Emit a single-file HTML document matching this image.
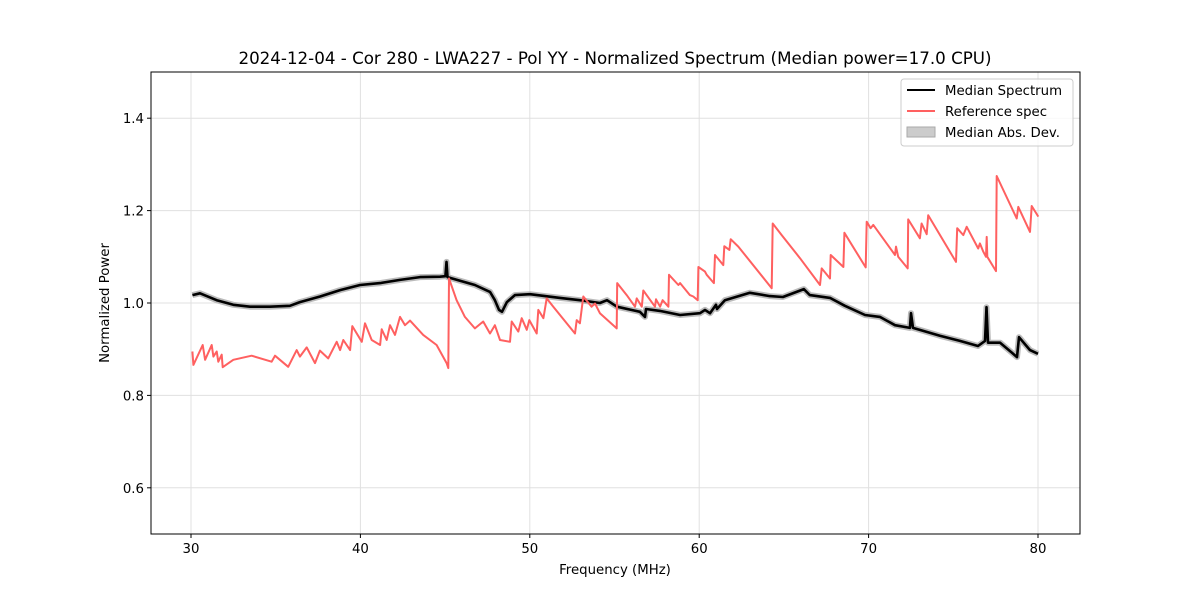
<!DOCTYPE html>
<html><head><meta charset="utf-8"><style>
body{margin:0;background:#fff;}
svg{display:block;font-family:"DejaVu Sans","Liberation Sans",sans-serif;}
</style></head><body>
<svg id="chart" width="1200" height="600">
<rect width="1200" height="600" fill="#fff"/>
<text x="615" y="64" font-size="16.7" text-anchor="middle">2024-12-04 - Cor 280 - LWA227 - Pol YY - Normalized Spectrum (Median power=17.0 CPU)</text>
<g id="grid"></g>
<g id="series"></g>
<rect x="151" y="72" width="929" height="462" fill="none" stroke="#000" stroke-width="1"/>
<g id="ticks"></g>
<text x="615" y="574" font-size="13.3" text-anchor="middle">Frequency (MHz)</text>
<text x="109" y="303" font-size="13.3" text-anchor="middle" transform="rotate(-90 109 303)">Normalized Power</text>
<g>
<rect x="901" y="79" width="172" height="67" rx="3" fill="#fff" fill-opacity="0.8" stroke="#ccc"/>
<line x1="907" y1="90" x2="935" y2="90" stroke="#000" stroke-width="2"/>
<text x="945" y="95" font-size="13.3">Median Spectrum</text>
<line x1="907" y1="111" x2="935" y2="111" stroke="#ff6060" stroke-width="2"/>
<text x="945" y="116" font-size="13.3">Reference spec</text>
<rect x="907" y="127" width="28" height="10" fill="#ccc" stroke="#aaa"/>
<text x="945" y="137" font-size="13.3">Median Abs. Dev.</text>
</g>
</svg>
<script>
const xTicks=[30,40,50,60,70,80];
const yTicks=[0.6,0.8,1.0,1.2,1.4];
const yTickLabels=["0.6","0.8","1.0","1.2","1.4"];
const refFreq=[30.08,30.14,30.69,30.83,31.22,31.32,31.52,31.61,31.81,31.87,32.50,33.58,34.76,34.96,35.74,36.24,36.43,36.83,37.32,37.61,38.10,38.60,38.80,38.99,39.39,39.52,40.08,40.27,40.67,41.16,41.26,41.55,41.75,42.04,42.34,42.63,42.93,43.71,44.50,45.09,45.19,45.23,45.68,46.17,46.76,47.25,47.65,47.94,48.24,48.83,48.93,49.32,49.52,49.82,49.97,50.41,50.50,50.80,51.00,51.39,52.67,52.77,52.96,53.16,53.65,53.85,54.14,55.13,55.16,55.72,56.21,56.31,56.61,56.70,57.39,57.45,57.69,57.84,58.18,58.22,58.77,58.87,59.45,59.65,59.91,59.95,60.34,60.44,60.87,60.93,61.42,61.48,61.78,61.86,62.31,64.28,64.34,64.87,65.95,67.13,67.23,67.72,67.76,68.51,68.57,69.83,69.89,70.12,70.28,71.56,71.62,71.75,72.31,72.34,73.03,73.13,73.43,73.52,75.16,75.23,75.59,75.79,76.47,76.57,76.77,76.93,76.97,77.01,77.52,77.56,78.74,78.84,79.53,79.63,80.02];
const refPower=[0.895,0.866,0.909,0.877,0.909,0.884,0.895,0.873,0.888,0.861,0.877,0.886,0.873,0.886,0.862,0.898,0.884,0.904,0.870,0.897,0.880,0.916,0.898,0.920,0.898,0.950,0.916,0.956,0.920,0.909,0.943,0.920,0.952,0.931,0.970,0.952,0.962,0.931,0.909,0.870,0.859,1.053,1.006,0.970,0.945,0.960,0.934,0.952,0.920,0.916,0.960,0.938,0.967,0.942,0.963,0.934,0.985,0.967,1.010,0.992,0.934,0.963,0.956,1.014,0.992,0.999,0.978,0.945,1.043,1.017,0.992,1.010,0.992,1.027,0.992,1.008,0.992,1.006,0.992,1.061,1.039,1.043,1.017,1.014,1.006,1.078,1.068,1.061,1.043,1.104,1.082,1.123,1.115,1.138,1.122,1.032,1.172,1.147,1.097,1.039,1.075,1.053,1.104,1.078,1.152,1.077,1.176,1.162,1.169,1.104,1.122,1.100,1.075,1.181,1.140,1.172,1.149,1.190,1.089,1.162,1.147,1.165,1.118,1.129,1.111,1.100,1.143,1.100,1.069,1.275,1.183,1.208,1.154,1.210,1.187];
const medFreq=[30.08,30.53,31.52,32.50,33.48,34.66,35.84,36.43,37.62,38.80,39.98,41.16,42.34,43.52,44.70,45.02,45.08,45.14,45.88,46.76,47.65,47.94,48.18,48.36,48.65,49.12,50.01,50.90,51.78,52.96,54.14,54.56,55.14,56.50,56.80,56.86,57.68,58.87,60.05,60.34,60.64,60.99,61.05,61.52,61.81,62.99,64.17,64.94,66.18,66.53,67.72,68.60,69.79,70.67,71.56,72.44,72.50,72.62,74.21,75.39,76.46,76.87,76.96,77.05,77.76,78.47,78.76,78.88,79.53,80.00];
const medPower=[1.017,1.021,1.006,0.996,0.992,0.992,0.994,1.002,1.014,1.028,1.039,1.043,1.050,1.056,1.057,1.058,1.089,1.056,1.048,1.039,1.024,1.006,0.985,0.981,1.002,1.017,1.019,1.015,1.011,1.006,1.000,1.006,0.992,0.981,0.970,0.987,0.983,0.974,0.978,0.985,0.978,0.996,0.987,1.006,1.009,1.022,1.015,1.013,1.030,1.017,1.011,0.994,0.974,0.970,0.952,0.946,0.978,0.946,0.929,0.918,0.907,0.918,0.991,0.914,0.914,0.892,0.883,0.926,0.898,0.890];

const NS="http://www.w3.org/2000/svg";
const X0=151,X1=1080,Y0=72,Y1=534;
function xs(f){return 191+(f-30)*(1038-191)/50;}
function ys(v){return 534-(v-0.5)*(534-72)/1.0;}
const grid=document.getElementById('grid'),ticks=document.getElementById('ticks'),series=document.getElementById('series');
function mk(tag,attrs,parent){const e=document.createElementNS(NS,tag);for(const k in attrs)e.setAttribute(k,attrs[k]);parent.appendChild(e);return e;}
xTicks.forEach(t=>{
  const x=xs(t);
  const g=mk('line',{x1:x,x2:x,y1:Y0,y2:Y1,stroke:'#e0e0e0','stroke-width':1},grid);
  
  
  const tk=mk('line',{x1:x,x2:x,y1:Y1,y2:Y1+4,stroke:'#000'},ticks);
  
  
  const tx=mk('text',{x:x,y:Y1+19,'font-size':13.3,'text-anchor':'middle'},ticks);
  tx.textContent=String(t);
  
  
});
yTicks.forEach((t,i)=>{
  const y=ys(t);
  const g=mk('line',{x1:X0,x2:X1,y1:y,y2:y,stroke:'#e0e0e0','stroke-width':1},grid);
  
  
  const tk=mk('line',{x1:X0-4,x2:X0,y1:y,y2:y,stroke:'#000'},ticks);
  
  
  const tx=mk('text',{x:X0-7,y:y+5,'font-size':13.3,'text-anchor':'end'},ticks);
  tx.textContent=yTickLabels[i];
  
  
});
function pts(fa,va){return fa.map((f,i)=>xs(f).toFixed(1)+','+ys(va[i]).toFixed(1)).join(' ');}
const band=mk('polyline',{points:pts(medFreq,medPower),fill:'none',stroke:'#bbb','stroke-width':6,'stroke-linejoin':'round'},series);


const med=mk('polyline',{points:pts(medFreq,medPower),fill:'none',stroke:'#000','stroke-width':2.6,'stroke-linejoin':'round'},series);


const ref=mk('polyline',{points:pts(refFreq,refPower),fill:'none',stroke:'#ff6060','stroke-width':2,'stroke-linejoin':'round'},series);


</script>
</body></html>
